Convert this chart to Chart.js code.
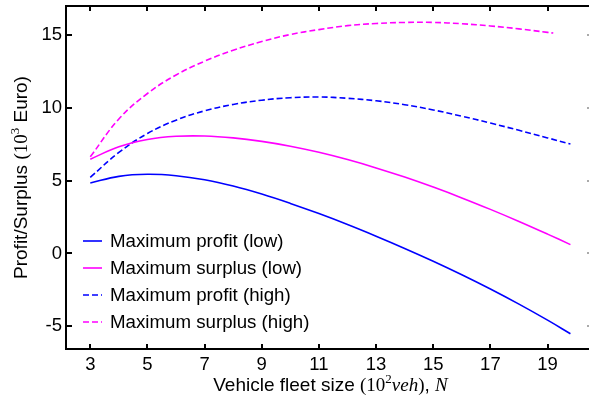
<!DOCTYPE html>
<html>
<head>
<meta charset="utf-8">
<script src="https://cdn.jsdelivr.net/npm/chart.js@4.4.1/dist/chart.umd.min.js"></script>
<style>
  html, body { margin: 0; padding: 0; background: #fff; overflow: hidden; }
</style>
</head>
<body>
<canvas id="fleetChart" width="589" height="403"></canvas>
<script>
// fleet size in 10^2 vehicles, profit / surplus in 10^3 Euro
const fleetSize = [3, 4, 5, 6, 7, 8, 9, 10, 11, 12, 13, 14, 15, 16, 17, 18, 19, 19.8];
const fleetSizeSurplusHigh = [3, 4, 5, 6, 7, 8, 9, 10, 11, 12, 13, 14, 15, 16, 17, 18, 19, 19.2];

const profitLow = [4.84, 5.30, 5.44, 5.34, 5.06, 4.63, 4.08, 3.44, 2.74, 1.99, 1.19, 0.35, -0.53, -1.46, -2.44, -3.48, -4.58, -5.51];
const surplusLow = [6.48, 7.33, 7.83, 8.05, 8.07, 7.94, 7.70, 7.37, 6.95, 6.45, 5.88, 5.25, 4.56, 3.82, 3.03, 2.20, 1.33, 0.61];
const profitHigh = [5.23, 6.94, 8.24, 9.16, 9.80, 10.24, 10.53, 10.70, 10.75, 10.66, 10.49, 10.22, 9.86, 9.43, 8.96, 8.46, 7.94, 7.52];
const surplusHigh = [6.64, 9.24, 10.99, 12.26, 13.21, 13.96, 14.56, 15.04, 15.38, 15.65, 15.80, 15.87, 15.87, 15.78, 15.63, 15.43, 15.19, 15.14];

const seriesLabels = ['Maximum profit (low)', 'Maximum surplus (low)', 'Maximum profit (high)', 'Maximum surplus (high)'];
const xTicks = [3, 5, 7, 9, 11, 13, 15, 17, 19];
const yTicks = [-5, 0, 5, 10, 15];

const BLUE = '#0000ff';
const MAGENTA = '#ff00ff';
const SANS = "'Liberation Sans', Arial, Helvetica, sans-serif";
const SERIF = "'Liberation Serif', 'DejaVu Serif', serif";

const toPoints = (xs, ys) => xs.map((x, i) => ({ x: x, y: ys[i] }));

const datasets = [
    { data: toPoints(fleetSize, profitLow), borderColor: BLUE, borderDash: [] },
    { data: toPoints(fleetSize, surplusLow), borderColor: MAGENTA, borderDash: [] },
    { data: toPoints(fleetSize, profitHigh), borderColor: BLUE, borderDash: [6, 3] },
    { data: toPoints(fleetSizeSurplusHigh, surplusHigh), borderColor: MAGENTA, borderDash: [6, 3] }
].map((ds, i) => Object.assign(ds, {
    label: seriesLabels[i],
    borderWidth: 1.6,
    pointRadius: 0,
    fill: false,
    tension: 0.4
}));

// draws a line of text made of runs with different fonts, centred on cx
function drawRuns(ctx, runs, cx, cy) {
    let total = 0;
    runs.forEach(r => { ctx.font = r.font; r.w = ctx.measureText(r.text).width; total += r.w; });
    let x = cx - total / 2;
    ctx.textAlign = 'left';
    ctx.textBaseline = 'middle';
    runs.forEach(r => {
        ctx.font = r.font;
        ctx.fillText(r.text, x, cy + (r.dy || 0));
        x += r.w;
    });
}

const framePlugin = {
    id: 'frame',
    afterDraw(chart) {
        const { ctx, chartArea: a, scales } = chart;
        const xs = scales.x, ys = scales.y;
        ctx.save();

        // axes box (left, top, bottom)
        ctx.strokeStyle = '#000';
        ctx.lineWidth = 2;
        ctx.beginPath();
        ctx.moveTo(a.right + 2, a.top);
        ctx.lineTo(a.left, a.top);
        ctx.lineTo(a.left, a.bottom);
        ctx.lineTo(a.right + 2, a.bottom);
        ctx.stroke();

        // inward ticks
        ctx.beginPath();
        xTicks.forEach(v => {
            const px = Math.round(xs.getPixelForValue(v));
            ctx.moveTo(px, a.top); ctx.lineTo(px, a.top + 5);
            ctx.moveTo(px, a.bottom); ctx.lineTo(px, a.bottom - 5);
        });
        yTicks.forEach(v => {
            const py = Math.round(ys.getPixelForValue(v));
            ctx.moveTo(a.left, py); ctx.lineTo(a.left + 6, py);
        });
        ctx.stroke();

        ctx.strokeStyle = '#aaa';
        ctx.beginPath();
        yTicks.forEach(v => {
            const py = Math.round(ys.getPixelForValue(v));
            ctx.moveTo(a.right - 2, py); ctx.lineTo(a.right, py);
        });
        ctx.stroke();

        // legend inside the plot
        ctx.fillStyle = '#000';
        chart.data.datasets.forEach((ds, i) => {
            const ly = 241 + i * 27;
            ctx.strokeStyle = ds.borderColor;
            ctx.lineWidth = 1.6;
            ctx.setLineDash(ds.borderDash);
            ctx.beginPath();
            ctx.moveTo(83, ly); ctx.lineTo(102, ly);
            ctx.stroke();
            ctx.setLineDash([]);
            ctx.font = '18.7px ' + SANS;
            ctx.textAlign = 'left';
            ctx.textBaseline = 'middle';
            ctx.fillText(ds.label, 110, ly + 1);
        });

        // x axis title
        drawRuns(ctx, [
            { text: 'Vehicle fleet size ', font: '19px ' + SANS },
            { text: '(10', font: '19px ' + SERIF },
            { text: '2', font: '13px ' + SERIF, dy: -6 },
            { text: 'veh', font: 'italic 19px ' + SERIF },
            { text: ')', font: '19px ' + SERIF },
            { text: ', ', font: '19px ' + SANS },
            { text: 'N', font: 'italic 19px ' + SERIF }
        ], (a.left + a.right) / 2 + 3, 386);

        // y axis title
        ctx.translate(22, (a.top + a.bottom) / 2);
        ctx.rotate(-Math.PI / 2);
        drawRuns(ctx, [
            { text: 'Profit/Surplus ', font: '19px ' + SANS },
            { text: '(10', font: '19px ' + SERIF },
            { text: '3', font: '13px ' + SERIF, dy: -6 },
            { text: ' Euro)', font: '19px ' + SANS }
        ], 0, 0);

        ctx.restore();
    }
};

const config = {
    type: 'line',
    data: { datasets: datasets },
    options: {
        responsive: false,
        animation: false,
        devicePixelRatio: 1,
        layout: { padding: { top: 6, right: 0, bottom: 0, left: 0 } },
        plugins: {
            legend: { display: false },
            tooltip: { enabled: false }
        },
        scales: {
            x: {
                type: 'linear',
                min: 2.15,
                max: 20.45,
                grid: { display: false, drawTicks: false },
                border: { display: false },
                ticks: { color: '#000', font: { family: SANS, size: 18.5 }, padding: 5 },
                afterBuildTicks: s => { s.ticks = xTicks.map(v => ({ value: v })); },
                afterFit: s => { s.height = 54; s.paddingLeft = 0; s.paddingRight = 0; }
            },
            y: {
                min: -6.56,
                max: 17,
                grid: { display: false, drawTicks: false },
                border: { display: false },
                ticks: { color: '#000', font: { family: SANS, size: 18.5 }, padding: 4 },
                afterBuildTicks: s => { s.ticks = yTicks.map(v => ({ value: v })); },
                afterFit: s => { s.width = 66; s.paddingTop = 0; s.paddingBottom = 0; }
            }
        }
    },
    plugins: [framePlugin]
};

const fleetChart = new Chart(document.getElementById('fleetChart').getContext('2d'), config);
</script>
</body>
</html>
